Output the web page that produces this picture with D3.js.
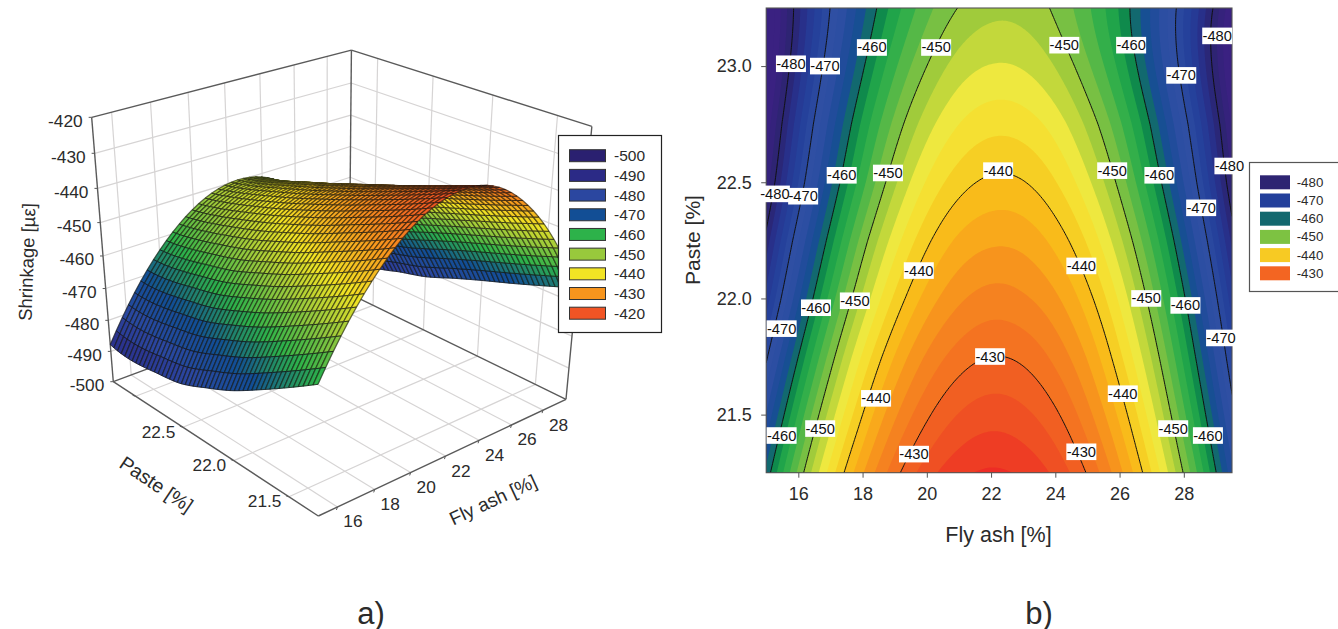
<!DOCTYPE html>
<html><head><meta charset="utf-8">
<style>html,body{margin:0;padding:0;background:#fff}svg{display:block}text{font-family:"Liberation Sans",Arial,sans-serif;fill:#2b2b2b}</style>
<script src="https://cdn.jsdelivr.net/npm/d3@7/dist/d3.min.js"></script>
</head><body><svg id="c" width="1338" height="629"></svg>
<script>
// ---- data ----
const flyAsh = [15,16,17,18,19,20,21,22,23,24,25,26,27,28,29,29.5];
const paste = [21.25,21.5,21.75,22,22.25,22.5,22.75,23,23.25];
const shrinkage = [
[-461.4,-451.5,-443.1,-436.2,-430.8,-426.9,-424.6,-423.7,-424.4,-426.5,-430.2,-435.4,-442.0,-450.2,-459.9,-465.4],
[-465.9,-455.7,-447.1,-440.0,-434.4,-430.4,-427.9,-426.9,-427.5,-429.6,-433.3,-438.5,-445.2,-453.5,-463.3,-468.8],
[-470.5,-460.0,-451.1,-443.7,-437.9,-433.7,-431.1,-430.0,-430.5,-432.6,-436.2,-441.5,-448.2,-456.6,-466.5,-472.1],
[-475.2,-464.4,-455.2,-447.6,-441.6,-437.2,-434.4,-433.2,-433.7,-435.6,-439.2,-444.4,-451.2,-459.6,-469.6,-475.2],
[-479.2,-468.2,-458.9,-451.1,-445.0,-440.5,-437.6,-436.4,-436.7,-438.7,-442.3,-447.5,-454.3,-462.8,-472.9,-478.5],
[-483.2,-472.0,-462.5,-454.7,-448.4,-443.8,-440.9,-439.6,-439.9,-441.9,-445.5,-450.7,-457.6,-466.1,-476.3,-482.0],
[-485.5,-474.6,-465.2,-457.5,-451.4,-446.9,-444.0,-442.7,-443.0,-444.9,-448.5,-453.6,-460.4,-468.8,-478.7,-484.3],
[-487.9,-477.2,-468.0,-460.4,-454.4,-450.0,-447.1,-445.9,-446.2,-448.1,-451.6,-456.6,-463.3,-471.5,-481.3,-486.8],
[-488.8,-478.6,-469.9,-462.7,-457.0,-452.7,-449.9,-448.6,-448.8,-450.4,-453.6,-458.2,-464.3,-471.9,-480.9,-486.0]];
// where each fly-ash column sits along the 3-D axis, as read from panel a)
const flyAsh3d = [15,16.04,17.08,18.13,19.17,20.21,21.25,22.29,23.27,24.22,25.18,26.14,27.1,28.06,29.02,29.5];
// how far panel a)'s surface sits from panel b)'s values, read at a few places
const offsetFly = [15,22.2,29.5];
const offsetPaste = [21.25,22,23.25];
const offsetA = [[-1,-1.5,0],[-3.5,-2.5,0],[1,-1.2,0]];

const legendALevels = [-500,-490,-480,-470,-460,-450,-440,-430,-420];
const legendAColors = ["#2a2070","#2b2a86","#2b47a0","#124e95","#2db24a","#98c93c","#f2e424","#f7951d","#f15424"];
// values at which the surface of panel a) reaches each legend colour, as seen on the picture
const surfaceColorStops = [-500,-490,-480,-470,-460,-451,-443,-434,-425];
const legendBLevels = [-480,-470,-460,-450,-440,-430];
const legendBColors = ["#2e2472","#233f9b","#12686e","#7dc242","#f7ca23","#f36522"];
const contourLevels = [-480,-470,-460,-450,-440,-430];
const bandColors = ["#3a2181","#3a2181","#3a2181","#3a2181","#3a2181","#3a2181","#3a2181","#3a2181",
"#35227c","#2e2473","#2a2778","#28308a","#263a95","#25419b","#2a489f","#2f4fa3",
"#2c4ea2","#214c9b","#174f93","#12696f","#0f8a4c","#20a44a","#33af4a","#55b847",
"#78c043","#a0cb3b","#c3d83b","#eee83f","#f5e032","#f6cf24","#f9bb1a","#f9a91b",
"#f7941d","#f58220","#f47321","#f15f22","#ef5023","#ee3d24","#ed2c25","#ed2224"];
const labelValues = [-480,-470,-460,-450,-460,-450,-440,-480,-470,-450,-460,-480,-470,-450,-460,-480,-470,-440,-440,-460,-450,-470,-430,-440,-460,-450,-430,-450,-460,-470,-440,-450,-460,-430];
const labelFly = [15.77,16.83,18.29,20.29,17.35,18.79,22.22,15.27,16.15,24.28,26.36,29.04,27.92,25.77,27.24,29.42,28.54,24.81,19.75,16.55,17.76,15.48,21.97,18.42,15.48,16.68,19.6,26.83,28.05,29.16,26.1,27.67,28.75,24.81];
const labelPaste = [23.01,23,23.08,23.08,22.53,22.54,22.55,22.45,22.44,23.09,23.09,23.13,22.96,22.55,22.53,22.57,22.39,22.14,22.12,21.96,21.99,21.87,21.75,21.57,21.41,21.44,21.33,22,21.97,21.83,21.59,21.44,21.41,21.34];
const flyTicks = [16,18,20,22,24,26,28];
const pasteTicks3d = [21.5,22,22.5,23];
const pasteTickLabels3d = [21.5,22,22.5];
const zTicks = [-500,-490,-480,-470,-460,-450,-440,-430,-420];
const pasteTicks2d = [21.5,22,22.5,23];

// ---- smooth reading of the tables between their cells (a spline through the points) ----
function lagrange(xs, ys, x, i0, i1){
  let s = 0;
  for (let a = i0; a <= i1; a++){
    let t = ys[a];
    for (let b = i0; b <= i1; b++) if (b !== a) t *= (x - xs[b])/(xs[a]-xs[b]);
    s += t;
  }
  return s;
}
function cubic(xs, ys, x){
  let i = d3.bisectRight(xs, x) - 1;
  i = Math.max(1, Math.min(xs.length - 3, i));
  return lagrange(xs, ys, x, i-1, i+2);
}
function surf(fx, py){
  const col = shrinkage.map(r => cubic(flyAsh, r, fx));
  return cubic(paste, col, py);
}
function offsetAt(fx, py){
  const col = offsetA.map(r => lagrange(offsetFly, r, fx, 0, 2));
  return lagrange(offsetPaste, col, py, 0, 2);
}

const svg = d3.select("#c");
svg.append("rect").attr("width",1338).attr("height",629).attr("fill","#fff");

// ================ panel a) ================
const uS = d3.scaleLinear().domain([15,29.5]).range([0,1]);
const vS = d3.scaleLinear().domain([21.25,23.25]).range([0,1]);
const wS = d3.scaleLinear().domain([-500,-420]).range([0,1]);
// projective camera of the box
const P0=[318.3,516], P1=[566,399.3], P2=[113.3,381.7], a=.13, b=.17, c=-.109;
const A=[P1[0]*(1+a)-P0[0],P1[1]*(1+a)-P0[1]], B=[P2[0]*(1+b)-P0[0],P2[1]*(1+b)-P0[1]], C=[-35.3,-322.1];
const proj=(u,v,w)=>{const d=1+a*u+b*v+c*w;return [(P0[0]+u*A[0]+v*B[0]+w*C[0])/d,(P0[1]+u*A[1]+v*B[1]+w*C[1])/d];};
const pr=(f,p,z)=>proj(uS(f),vS(p),wS(z));
const line=d3.line();
const gA=svg.append("g");
const gridColor="#d6d4d4";
function seg(g,p,q,col,w){g.append("path").attr("d",line([p,q])).attr("stroke",col).attr("stroke-width",w).attr("fill","none");}
const g0=gA.append("g");
// wall and floor grid
flyTicks.forEach(f=>{seg(g0,pr(f,23.25,-500),pr(f,23.25,-420),gridColor,1.2);seg(g0,pr(f,21.25,-500),pr(f,23.25,-500),gridColor,1.2);});
pasteTicks3d.forEach(p=>{seg(g0,pr(29.5,p,-500),pr(29.5,p,-420),gridColor,1.2);seg(g0,pr(15,p,-500),pr(29.5,p,-500),gridColor,1.2);});
zTicks.slice(1,-1).forEach(z=>{seg(g0,pr(15,23.25,z),pr(29.5,23.25,z),gridColor,1.2);seg(g0,pr(29.5,23.25,z),pr(29.5,21.25,z),gridColor,1.2);});
// frame
const frame="#5a5a5a";
[[[15,23.25,-500],[15,23.25,-420]],[[15,23.25,-420],[29.5,23.25,-420]],[[29.5,23.25,-420],[29.5,23.25,-500]],
 [[29.5,23.25,-420],[29.5,21.25,-420]],[[29.5,21.25,-420],[29.5,21.25,-500]],[[15,23.25,-500],[29.5,23.25,-500]],
 [[29.5,23.25,-500],[29.5,21.25,-500]],[[15,23.25,-500],[15,21.25,-500]],[[15,21.25,-500],[29.5,21.25,-500]]]
 .forEach(([p,q])=>seg(g0,pr(...p),pr(...q),frame,1.4));
// ticks and tick labels
zTicks.forEach(z=>{const q=pr(15,23.25,z);seg(g0,q,[q[0]-3,q[1]],frame,1);
  g0.append("text").attr("x",q[0]-9).attr("y",q[1]+3.5).attr("text-anchor","end").attr("dominant-baseline","central").attr("font-size",17.3).text(z);});
pasteTicks3d.forEach(p=>{const q=pr(15,p,-500);seg(g0,q,[q[0]-3,q[1]-1],frame,1);});
pasteTickLabels3d.forEach(p=>{const q=pr(15,p,-500);
  g0.append("text").attr("x",q[0]-7.5).attr("y",q[1]+4.4).attr("text-anchor","end").attr("dominant-baseline","central").attr("font-size",17.3).text(d3.format(".1f")(p));});
flyTicks.forEach(f=>{const q=pr(f,21.25,-500);seg(g0,q,[q[0]-1,q[1]+3],frame,1);
  g0.append("text").attr("x",q[0]+15.5).attr("y",q[1]+14.5).attr("text-anchor","middle").attr("dominant-baseline","central").attr("font-size",17.3).text(f);});
// titles
const rot=(txt,x,y,ang,size)=>svg.append("text").attr("transform",`translate(${x},${y}) rotate(${ang})`).attr("text-anchor","middle").attr("dominant-baseline","central").attr("font-size",size).text(txt);
rot("Shrinkage [µε]",27,262,-88,18.5);
rot("Paste [%]",156.5,484,34,19.5);
rot("Fly ash [%]",493,500,-25,19);

// surface mesh
const zColor=d3.scaleLinear().domain(surfaceColorStops).range(legendAColors).clamp(true);
const nFly=40, nPaste=50;
const flyStep=d3.range(nFly+1).map(i=>15+14.5*i/nFly);
const pasteStep=d3.range(nPaste+1).map(j=>21.25+2*j/nPaste);
const fly3d=d3.scaleLinear().domain(flyAsh).range(flyAsh3d);
const vGrid=flyStep.map(f=>pasteStep.map(p=>surf(f,p)));
const zGrid=flyStep.map((f,i)=>pasteStep.map((p,j)=>vGrid[i][j]+offsetAt(f,p)));
const cells=[];
for(let i=nFly-1;i>=0;i--)for(let j=nPaste-1;j>=0;j--)cells.push([i,j]);
const pt=(i,j)=>pr(fly3d(flyStep[i]),pasteStep[j],zGrid[i][j]);
const gS=gA.append("g");
const cell=gS.selectAll("g").data(cells).join("g");
const cellColor=([i,j])=>zColor((vGrid[i][j]+vGrid[i+1][j]+vGrid[i][j+1]+vGrid[i+1][j+1])/4);
cell.append("path").attr("d",([i,j])=>line([pt(i,j),pt(i+1,j),pt(i+1,j+1),pt(i,j+1)])+"Z")
  .attr("fill",cellColor).attr("stroke",cellColor).attr("stroke-width",.4);
cell.append("path").attr("d",([i,j])=>line([pt(i,j),pt(i+1,j)])+line([pt(i,j+1),pt(i+1,j+1)]))
  .attr("fill","none").attr("stroke","#15150c").attr("stroke-width",1.25).attr("stroke-opacity",.6);
cell.append("path").attr("d",([i,j])=>line([pt(i,j),pt(i,j+1)])+line([pt(i+1,j),pt(i+1,j+1)]))
  .attr("fill","none").attr("stroke","#111").attr("stroke-width",.8).attr("stroke-opacity",.9);

// legend a
const la=svg.append("g");
la.append("rect").attr("x",558.5).attr("y",135.5).attr("width",103).attr("height",197).attr("fill","#fff").attr("stroke","#222").attr("stroke-width",1.2);
const laY=d3.scalePoint().domain(legendALevels).range([155.7,313.2]);
legendALevels.forEach((l,i)=>{
  la.append("rect").attr("x",569.5).attr("y",laY(l)-6).attr("width",36).attr("height",12).attr("fill",legendAColors[i]).attr("stroke","#333").attr("stroke-width",1);
  la.append("text").attr("x",614).attr("y",laY(l)).attr("dominant-baseline","central").attr("font-size",15.5).text(l);
});

// ================ panel b) ================
const sx=d3.scaleLinear().domain([15,29.5]).range([766.2,1232]);
const sy=d3.scaleLinear().domain([21.25,23.25]).range([472.7,8]);
const dx=.05, dy=.01, nx=Math.round(14.5/dx)+1, ny=Math.round(2/dy)+1;
const values=new Float64Array(nx*ny);
for(let j=0;j<ny;j++)for(let i=0;i<nx;i++)values[i+j*nx]=surf(15+i*dx,21.25+j*dy);
const gridPath=d3.geoPath(d3.geoTransform({point(x,y){this.stream.point(sx(15+(x-.5)*dx),sy(21.25+(y-.5)*dy));}}));
const gB=svg.append("g");
svg.append("clipPath").attr("id","pb").append("rect").attr("x",766.2).attr("y",8).attr("width",465.8).attr("height",464.7);
const plot=gB.append("g").attr("clip-path","url(#pb)");
const bandThresholds=d3.range(-500,-420,2);
plot.append("rect").attr("x",766).attr("y",8).attr("width",467).attr("height",465).attr("fill",bandColors[0]);
const contours=d3.contours().size([nx,ny]);
plot.selectAll("path.band").data(contours.thresholds(bandThresholds)(values)).join("path").attr("class","band")
  .attr("d",gridPath).attr("fill",(d,i)=>bandColors[i]);
plot.selectAll("path.iso").data(contours.thresholds(contourLevels)(values)).join("path").attr("class","iso")
  .attr("d",gridPath).attr("fill","none").attr("stroke","#111").attr("stroke-width",1);
gB.append("rect").attr("x",766.2).attr("y",8).attr("width",465.8).attr("height",464.7).attr("fill","none").attr("stroke","#555").attr("stroke-width",1.1);
// axes
const xAxis=d3.axisBottom(sx).tickValues(flyTicks).tickSize(5).tickSizeOuter(0);
const yAxis=d3.axisLeft(sy).tickValues(pasteTicks2d).tickSize(5).tickSizeOuter(0).tickFormat(d3.format(".1f"));
const ax=gB.append("g").attr("transform","translate(0,472.7)").call(xAxis);
const ay=gB.append("g").attr("transform","translate(766.2,0)").call(yAxis);
[ax,ay].forEach(s=>{s.select(".domain").remove();s.selectAll("line").attr("stroke","#555");s.selectAll("text").attr("font-size",18).attr("font-family",null).style("fill","#2b2b2b");});
ax.selectAll("text").attr("y",15);
ay.selectAll("text").attr("x",-14.5);
svg.append("text").attr("x",998.5).attr("y",535).attr("text-anchor","middle").attr("dominant-baseline","central").attr("font-size",21.5).text("Fly ash [%]");
rot("Paste [%]",692,240,-90,21);
// contour labels: all boxes first, then all texts, as texts run past their boxes
const labPos=(d,i)=>`translate(${sx(labelFly[i])},${sy(labelPaste[i])})`;
gB.selectAll("rect.lab").data(labelValues).join("rect").attr("class","lab").attr("transform",labPos)
  .attr("x",-15).attr("y",-8.3).attr("width",30).attr("height",16.6).attr("fill","#fff");
gB.selectAll("text.lab").data(labelValues).join("text").attr("class","lab").attr("transform",labPos)
  .attr("text-anchor","middle").attr("dominant-baseline","central").attr("font-size",14.7).style("fill","#111").text(d=>d);
// legend b
const lb=svg.append("g");
lb.append("rect").attr("x",1249.5).attr("y",162.5).attr("width",90).attr("height",129).attr("fill","#fff").attr("stroke","#555").attr("stroke-width",1.2);
const lbY=d3.scalePoint().domain(legendBLevels).range([182.3,273.3]);
legendBLevels.forEach((l,i)=>{
  lb.append("rect").attr("x",1260).attr("y",lbY(l)-7).attr("width",30).attr("height",14).attr("fill",legendBColors[i]);
  lb.append("text").attr("x",1296.7).attr("y",lbY(l)).attr("dominant-baseline","central").attr("font-size",13.3).text(l);
});
// panel captions
svg.append("text").attr("x",371).attr("y",613).attr("text-anchor","middle").attr("dominant-baseline","central").attr("font-size",31).text("a)");
svg.append("text").attr("x",1039).attr("y",613).attr("text-anchor","middle").attr("dominant-baseline","central").attr("font-size",31).text("b)");
</script></body></html>
